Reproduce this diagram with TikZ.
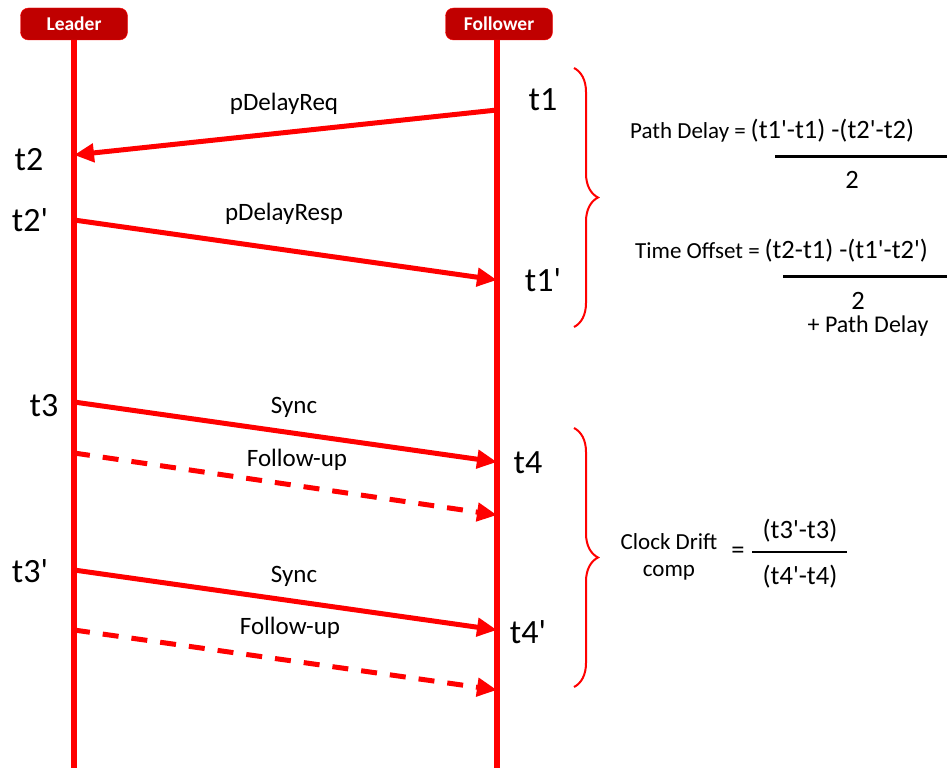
\documentclass[tikz,border=0pt]{standalone}
\usepackage{fontspec}
\setmainfont{Carlito}
\usetikzlibrary{arrows.meta,decorations.pathreplacing}
\definecolor{lred}{HTML}{FF0000}
\definecolor{boxred}{HTML}{C00000}
\newcommand\sq{\textquotesingle}
\begin{document}
\begin{tikzpicture}[x=1pt,y=1pt,
  head/.style={draw=lred,fill=boxred,rounded corners=8pt,minimum width=107pt,minimum height=32pt,inner sep=0pt,text=white,font=\bfseries\fontsize{19.5}{21}\selectfont},
  life/.style={draw=lred,line width=6pt},
  msg/.style={draw=lred,line width=5pt,-{Triangle[length=20pt,width=18pt]}},
  dmsg/.style={msg,dash pattern=on 16pt off 13pt},
  lbl/.style={font=\fontsize{25}{27}\selectfont,inner sep=0pt},
  tl/.style={font=\fontsize{34}{36}\selectfont,inner sep=0pt},
  ftxt/.style={font=\fontsize{23}{27}\selectfont,inner sep=0pt},
  fbig/.style={font=\fontsize{26.5}{28}\selectfont,inner sep=0pt},
  brc/.style={draw=lred,line width=2pt,decorate,decoration={brace,amplitude=24pt,aspect=0.5}},
  frac/.style={draw=black,line width=3pt}]
\useasboundingbox (0,0) rectangle (947,-768);
% lifelines
\node[head] (L) at (74,-24) {Leader};
\node[head] (F) at (499,-24) {Follower};
\coordinate (Lend) at (74,-768);
\coordinate (Fend) at (497,-768);
\draw[life] (L.south -| Lend) -- (Lend);
\draw[life] (F.south -| Fend) -- (Fend);
% message points
\coordinate (f1) at (497,-110);
\coordinate (l2) at (74,-155);
\coordinate (l2p) at (74,-220);
\coordinate (f1p) at (497,-280);
\coordinate (l3) at (74,-402);
\coordinate (f4) at (497,-462);
\coordinate (l3f) at (74,-453);
\coordinate (f4f) at (497,-515);
\coordinate (l3p) at (74,-570);
\coordinate (f4p) at (497,-630);
\coordinate (l3pf) at (74,-630);
\coordinate (f4pf) at (497,-690);
\draw[msg] (f1) -- (l2);
\draw[msg] (l2p) -- (f1p);
\draw[msg] (l3) -- (f4);
\draw[dmsg] (l3f) -- (f4f);
\draw[msg] (l3p) -- (f4p);
\draw[dmsg] (l3pf) -- (f4pf);
% message labels
\node[lbl] (m1) at (284,-104) {pDelayReq};
\node[lbl] (m2) at (284,-214) {pDelayResp};
\node[lbl] (m3) at (294,-407) {Sync};
\node[lbl] (m4) at (297,-460) {Follow-up};
\node[lbl] (m5) at (294,-576) {Sync};
\node[lbl] (m6) at (290,-628) {Follow-up};
% time labels
\node[tl] (t1) at (543,-100) {t1};
\node[tl] (t2) at (29,-160) {t2};
\node[tl] (t2p) at (30,-220) {t2\sq};
\node[tl] (t1p) at (543,-280) {t1\sq};
\node[tl] (t3) at (44,-406) {t3};
\node[tl] (t4) at (528,-463) {t4};
\node[tl] (t3p) at (30,-571) {t3\sq};
\node[tl] (t4p) at (528,-632) {t4\sq};
% braces
\coordinate (b1a) at (574,-68);
\coordinate (b1b) at (574,-327);
\coordinate (b2a) at (574,-428);
\coordinate (b2b) at (574,-687);
\draw[brc] (b1a) -- (b1b);
\draw[brc] (b2a) -- (b2b);
% Path delay formula
\node[ftxt,anchor=base west] (pd) at (630,-138) {Path Delay =};
\node[fbig,anchor=base west] (pdn) at (pd.base east) {\,(t1\sq-t1) -(t2\sq-t2)};
\coordinate (pdl1) at (775,-156);
\coordinate (pdl2) at (947,-156);
\draw[frac] (pdl1) -- (pdl2);
\node[fbig] (pdd) at (852,-180) {2};
% Time offset formula
\node[ftxt,anchor=base west] (to) at (635,-258) {Time Offset =};
\node[fbig,anchor=base west] (ton) at (to.base east) {\,(t2-t1) -(t1\sq-t2\sq)};
\coordinate (tol1) at (783,-276);
\coordinate (tol2) at (947,-276);
\draw[frac] (tol1) -- (tol2);
\node[fbig] (tod) at (858,-301) {2};
\node[font=\fontsize{24}{26}\selectfont,inner sep=0pt] (topd) at (868,-326) {+ Path Delay};
% clock drift
\node[ftxt,align=center] (cd) at (669,-557) {Clock Drift\\comp};
\node[fbig] (eq) at (738,-553) {=};
\coordinate (cdl1) at (752,-552);
\coordinate (cdl2) at (847,-552);
\draw[draw=black,line width=2pt] (cdl1) -- (cdl2);
\node[fbig] (cdn) at (800,-531) {(t3\sq-t3)};
\node[fbig] (cdd) at (800,-577) {(t4\sq-t4)};
\end{tikzpicture}
\end{document}
